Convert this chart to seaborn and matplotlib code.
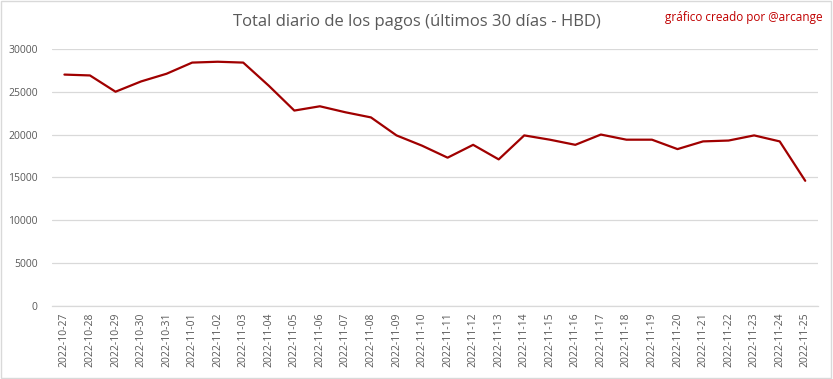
import pandas as pd
import matplotlib.pyplot as plt
import seaborn as sns

# Data
dates = ["2022-10-27", "2022-10-28", "2022-10-29", "2022-10-30", "2022-10-31",
         "2022-11-01", "2022-11-02", "2022-11-03", "2022-11-04", "2022-11-05",
         "2022-11-06", "2022-11-07", "2022-11-08", "2022-11-09", "2022-11-10",
         "2022-11-11", "2022-11-12", "2022-11-13", "2022-11-14", "2022-11-15",
         "2022-11-16", "2022-11-17", "2022-11-18", "2022-11-19", "2022-11-20",
         "2022-11-21", "2022-11-22", "2022-11-23", "2022-11-24", "2022-11-25"]
totals = [27000, 26900, 25000, 26200, 27100,
          28400, 28500, 28400, 25700, 22800,
          23300, 22600, 22000, 19900, 18700,
          17300, 18800, 17100, 19900, 19400,
          18800, 20000, 19400, 19400, 18300,
          19200, 19300, 19900, 19200, 14600]
yticks = [0, 5000, 10000, 15000, 20000, 25000, 30000]

LINE = "#A00000"
TEXT = "#595959"
GRID = "#D9D9D9"

sns.set_theme(style="white")
plt.rcParams["font.family"] = ["Open Sans", "DejaVu Sans"]

df = pd.DataFrame({"fecha": dates, "total": totals})

fig = plt.figure(figsize=(8.33, 3.79), dpi=100)
ax = fig.add_axes([0.062, 0.193, 0.920, 0.678])

sns.lineplot(data=df, x="fecha", y="total", ax=ax, color=LINE, linewidth=1.6,
             sort=False)

ax.set_xlim(-0.5, len(dates) - 0.5)
ax.set_ylim(0, 30000)
ax.set_yticks(yticks)
ax.set_yticklabels([str(v) for v in yticks])
ax.grid(axis="y", color=GRID, linewidth=0.9)
ax.set_axisbelow(True)
for side in ["left", "right", "top"]:
    ax.spines[side].set_visible(False)
ax.spines["bottom"].set_color(GRID)
ax.spines["bottom"].set_linewidth(0.9)
ax.tick_params(axis="x", rotation=90, labelsize=7.5, colors=TEXT, length=0, pad=5)
ax.tick_params(axis="y", labelsize=7.5, colors=TEXT, length=0, pad=10)
ax.set_xlabel("")
ax.set_ylabel("")

fig.text(0.5, 0.942, "Total diario de los pagos (últimos 30 días - HBD)",
         ha="center", va="center", fontsize=12, color=TEXT)
fig.text(0.987, 0.955, "gráfico creado por @arcange", ha="right", va="center",
         fontsize=8.5, color="#C00000")

# thin chart border like the source
fig.patches.append(plt.Rectangle((0.001, 0.002), 0.997, 0.995, transform=fig.transFigure,
                                 fill=False, edgecolor=GRID, linewidth=1))

fig.savefig("out.png", dpi=100)
plt.close(fig)
